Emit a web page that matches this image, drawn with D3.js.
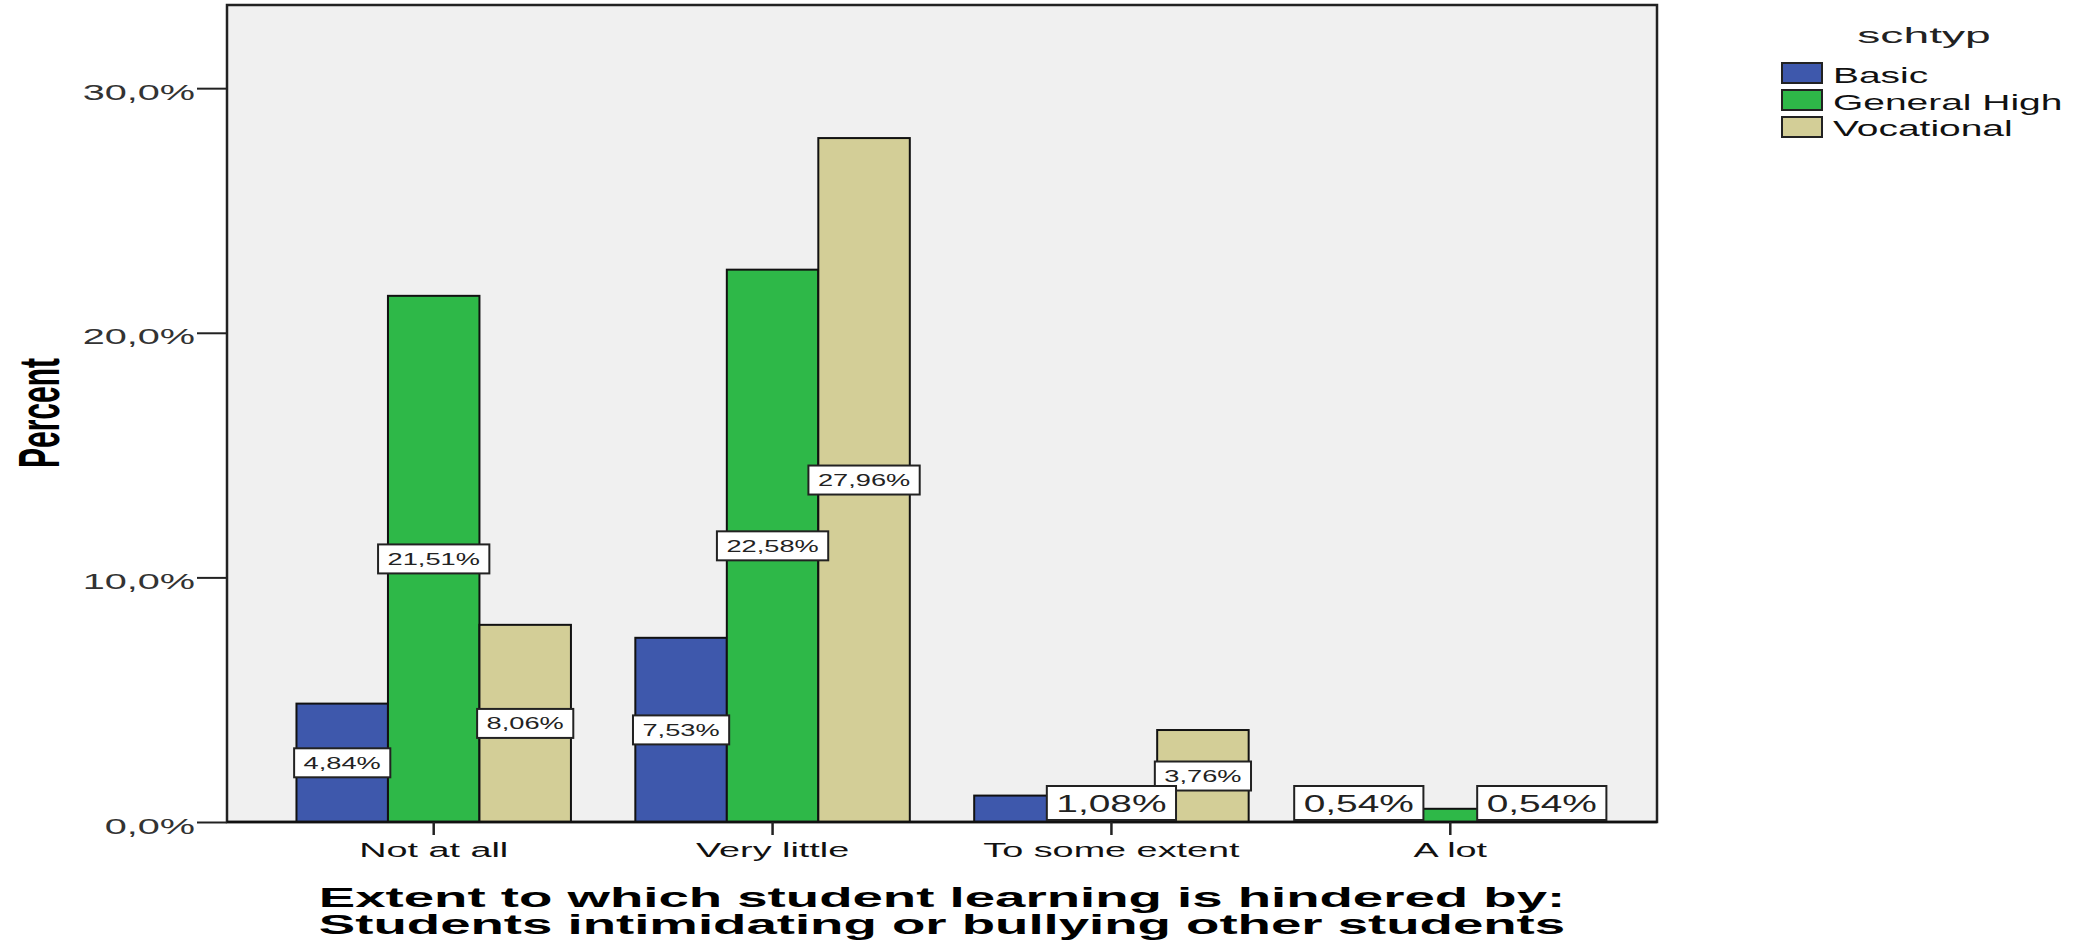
<!DOCTYPE html>
<html><head><meta charset="utf-8">
<script src="https://cdn.jsdelivr.net/npm/d3@7"></script>
<style>
html,body{margin:0;padding:0;background:#fff;}
svg{display:block;font-family:"Liberation Sans",Arial,sans-serif;}
</style></head>
<body>
<svg id="chart" width="2079" height="941"></svg>
<script>
// ---------- data ----------
const categories = ["Not at all", "Very little", "To some extent", "A lot"];
const seriesNames = ["Basic", "General High", "Vocational"];
const basicValues = [4.84, 7.53, 1.08, 0.54];
const generalHighValues = [21.51, 22.58, 1.08, 0.54];
const vocationalValues = [8.06, 27.96, 3.76, 0.54];
const yTickValues = [0, 10, 20, 30];
const yTitle = "Percent";
const xTitleLines = ["Extent to which student learning is hindered by:", "Students intimidating or bullying other students"];
const legendTitle = "schtyp";

// label placement (as drawn by the original: inside bar, outside above axis, or hidden by collision)
const labelPlacement = [
  ["in", "in", "in"],
  ["in", "in", "in"],
  ["hide", "out", "in"],
  ["out", "hide", "out"]
];

const seriesValues = [basicValues, generalHighValues, vocationalValues];
const colors = ["#3E58AC", "#2EB848", "#D3CE97"];

// ---------- layout ----------
const plot = {left: 227, right: 1657, top: 5, bottom: 822};
const yMax = 33.4;

const svg = d3.select("#chart");

const y = d3.scaleLinear().domain([0, yMax]).range([plot.bottom, plot.top]);
const x0 = d3.scaleBand().domain(categories).range([plot.left, plot.right])
  .paddingInner(0.19).paddingOuter(0.205);
const x1 = d3.scaleBand().domain(seriesNames).range([0, x0.bandwidth()]).padding(0);
const color = d3.scaleOrdinal().domain(seriesNames).range(colors);

const fmtPct = v => d3.format(".2f")(v).replace(".", ",") + "%";
const fmtTick = v => d3.format(".1f")(v).replace(".", ",") + "%";

function sText(g, x, y, str, o) {
  const t = g.append("text")
    .attr("transform", `translate(${x},${y}) scale(${o.sx || 1},1)` + (o.rotate ? ` rotate(${o.rotate})` : ""))
    .attr("text-anchor", o.anchor || "start")
    .attr("font-size", o.size)
    .attr("font-weight", o.weight || "normal")
    .attr("fill", o.fill || "#000")
    .text(str);
  return t;
}

// plot background
svg.append("rect")
  .attr("x", plot.left).attr("y", plot.top)
  .attr("width", plot.right - plot.left).attr("height", plot.bottom - plot.top)
  .attr("fill", "#F0F0F0").attr("stroke", "none");

// bars
const rows = categories.map((c, i) => ({cat: c, vals: seriesNames.map((s, j) => ({s, j, v: seriesValues[j][i], mode: labelPlacement[i][j]}))}));

const groups = svg.append("g").selectAll("g").data(rows).join("g")
  .attr("transform", d => `translate(${x0(d.cat)},0)`);

groups.selectAll("rect").data(d => d.vals).join("rect")
  .attr("x", d => x1(d.s))
  .attr("y", d => y(d.v))
  .attr("width", x1.bandwidth())
  .attr("height", d => y(0) - y(d.v))
  .attr("fill", d => color(d.s))
  .attr("stroke", "#111").attr("stroke-width", 2);

// frame
svg.append("rect")
  .attr("x", plot.left).attr("y", plot.top)
  .attr("width", plot.right - plot.left).attr("height", plot.bottom - plot.top)
  .attr("fill", "none").attr("stroke", "#222").attr("stroke-width", 2.5);

// y axis
const yAxis = svg.append("g").attr("transform", `translate(${plot.left},0)`)
  .call(d3.axisLeft(y).tickValues(yTickValues).tickSize(30).tickSizeOuter(0).tickFormat(fmtTick));
yAxis.select(".domain").remove();
yAxis.selectAll(".tick line").attr("stroke", "#222").attr("stroke-width", 2);
yAxis.selectAll(".tick text")
  .attr("x", null).attr("dy", null)
  .attr("transform", "translate(-32,11) scale(1.8,1)")
  .attr("font-size", 22).attr("fill", "#333")
  .attr("font-family", "Liberation Sans, Arial, sans-serif");

// x axis
const xAxis = svg.append("g").attr("transform", `translate(0,${plot.bottom})`)
  .call(d3.axisBottom(x0).tickSize(13).tickSizeOuter(0));
xAxis.select(".domain").attr("stroke", "#111").attr("stroke-width", 2.5)
  .attr("d", `M${plot.left},0H${plot.right}`);
xAxis.selectAll(".tick line").attr("stroke", "#222").attr("stroke-width", 2.5);
xAxis.selectAll(".tick text")
  .attr("y", null).attr("dy", null)
  .attr("transform", "translate(0,35) scale(1.8,1)")
  .attr("font-size", 21).attr("fill", "#111")
  .attr("font-family", "Liberation Sans, Arial, sans-serif");

// value labels
const labelLayer = svg.append("g");
function drawLabel(cx, cy, str, size, sx, minW, pad, h) {
  const g = labelLayer.append("g");
  const rect = g.append("rect");
  const t = sText(g, cx, cy, str, {size, sx, anchor: "middle", fill: "#222"});
  t.attr("dy", "0.36em");
  const tw = t.node().getComputedTextLength() * sx;
  const w = Math.max(minW, tw + pad);
  rect.attr("x", cx - w / 2).attr("y", cy - h / 2).attr("width", w).attr("height", h)
    .attr("fill", "#fff").attr("stroke", "#222").attr("stroke-width", 2);
}
const allCells = rows.flatMap(r => r.vals.map(v => ({...v, cat: r.cat})));
allCells.filter(d => d.mode === "in").forEach(d => {
  const cx = x0(d.cat) + x1(d.s) + x1.bandwidth() / 2;
  const cy = (y(d.v) + y(0)) / 2;
  drawLabel(cx, cy, fmtPct(d.v), 16.5, 1.65, x1.bandwidth(), 19, 29);
});
allCells.filter(d => d.mode === "out").forEach(d => {
  const cx = x0(d.cat) + x1(d.s) + x1.bandwidth() / 2;
  const h = 34;
  const cy = y(0) - 2 - h / 2;
  drawLabel(cx, cy, fmtPct(d.v), 24, 1.62, x1.bandwidth(), 19, h);
});

// axis titles
sText(svg, 59, 413, yTitle, {size: 30, sx: 1.9, rotate: -90, anchor: "middle", weight: "bold", fill: "#000"});
const xMid = (plot.left + plot.right) / 2;
xTitleLines.forEach((line, i) => {
  sText(svg, xMid, 907 + i * 26.5, line, {size: 28, sx: 1.95, anchor: "middle", weight: "bold", fill: "#000"});
});

// legend
const legend = svg.append("g");
sText(legend, 1924, 43, legendTitle, {size: 22, sx: 2.1, anchor: "middle", fill: "#222"});
seriesNames.forEach((s, i) => {
  legend.append("rect").attr("x", 1782).attr("y", 63 + i * 27).attr("width", 40).attr("height", 20)
    .attr("fill", color(s)).attr("stroke", "#222").attr("stroke-width", 2);
  sText(legend, 1833, 83 + i * 26.7, s, {size: 22, sx: 1.77, anchor: "start", fill: "#111"});
});
</script>
</body></html>
